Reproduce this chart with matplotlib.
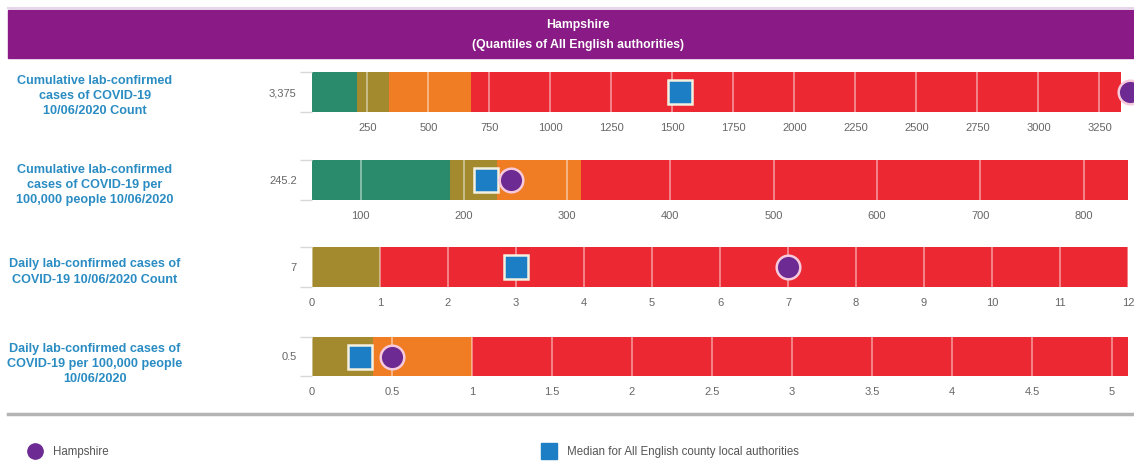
import numpy as np
import matplotlib
matplotlib.use("Agg")
import matplotlib.pyplot as plt
from matplotlib.patches import Rectangle
from matplotlib.lines import Line2D

plt.rcParams['font.family'] = ['Liberation Sans', 'DejaVu Sans']

# chart data
area = 'Hampshire'
subtitle = '(Quantiles of All English authorities)'
row_labels = ['Cumulative lab-confirmed\ncases of COVID-19\n10/06/2020 Count',
              'Cumulative lab-confirmed\ncases of COVID-19 per\n100,000 people 10/06/2020',
              'Daily lab-confirmed cases of\nCOVID-19 10/06/2020 Count',
              'Daily lab-confirmed cases of\nCOVID-19 per 100,000 people\n10/06/2020']
value_labels = ['3,375', '245.2', '7', '0.5']
area_values = [3375, 245.2, 7, 0.5]
median_values = [1530, 221, 3, 0.30]
# quantile band edges (start, end) and band colours per row
band_edges = [[23, 208, 340, 675, 3340],
              [53, 187, 232, 313.5, 843],
              [0, 1, 12],
              [0, 0.38, 1.0, 5.1]]
band_colors = [['green', 'olive', 'orange', 'red'],
               ['green', 'olive', 'orange', 'red'],
               ['olive', 'red'],
               ['olive', 'orange', 'red']]
x_limits = [(23, 3367), (53, 843), (0, 12), (0, 5.1)]
x_ticks = [np.arange(250, 3251, 250),
           np.arange(100, 801, 100),
           np.arange(0, 13, 1),
           np.arange(0, 5.01, 0.5)]
tick_text = [[str(t) for t in x_ticks[0]],
             [str(t) for t in x_ticks[1]],
             [str(t) for t in x_ticks[2]],
             ['%g' % t for t in x_ticks[3]]]

palette = {'green': '#2a8a6c', 'olive': '#a38a2f', 'orange': '#f07d24',
           'red': '#ec2933'}
purple = '#6c2a92'
blue = '#1c7fc6'
header_col = '#8a1a86'
label_col = '#2a8cc2'
grey_txt = '#666666'

W, H = 1134, 468
fig = plt.figure(figsize=(W / 100, H / 100), dpi=100)

def px_rect(x0, y0, x1, y1):
    # pixel box (top-left origin) -> figure fraction
    return [x0 / W, 1 - y1 / H, (x1 - x0) / W, (y1 - y0) / H]

# header band
fig.add_artist(Line2D([8 / W, 1], [1 - 8 / H] * 2, color='#e6d6ea',
                      linewidth=1.5, transform=fig.transFigure))
fig.patches.append(Rectangle((8 / W, 1 - 58 / H), 1 - 8 / W, 48 / H,
                             transform=fig.transFigure, color=header_col,
                             zorder=0))
fig.text(578 / W, 1 - 25 / H, area, color='white', fontsize=8.8,
         fontweight='bold', ha='center', va='center')
fig.text(578 / W, 1 - 45 / H, subtitle, color='white', fontsize=8.8,
         fontweight='bold', ha='center', va='center')

bar_rows = [(72, 112), (160, 200), (247, 287), (337, 376)]
label_y = [96, 185, 272, 364]

for i, (top, bot) in enumerate(bar_rows):
    ax = fig.add_axes(px_rect(312, top, 1128, bot))
    edges = band_edges[i]
    for j, c in enumerate(band_colors[i]):
        ax.barh(0.5, edges[j + 1] - edges[j], left=edges[j], height=1.0,
                color=palette[c], zorder=1)
    ax.set_xlim(*x_limits[i])
    ax.set_ylim(0, 1)
    ax.set_xticks(x_ticks[i])
    ax.set_xticklabels(tick_text[i])
    ax.set_axisbelow(False)
    ax.grid(axis='x', color='white', alpha=0.5, linewidth=1.2)
    ax.tick_params(axis='x', length=0, pad=8, labelsize=8,
                   labelcolor=grey_txt)
    ax.set_yticks([0.5])
    ax.set_yticklabels([value_labels[i]])
    ax.set_yticks([0.0, 1.0], minor=True)
    ax.tick_params(axis='y', which='major', length=0, pad=11, labelsize=8,
                   labelcolor=grey_txt)
    ax.tick_params(axis='y', which='minor', length=9, width=1,
                   color='#d8d8d8')
    for s in ax.spines.values():
        s.set_visible(False)

    ax.plot(median_values[i], 0.5, marker='s', ms=17, mfc=blue,
            mec='#f4f0e0', mew=1.8, zorder=4, clip_on=False)
    ax.plot(area_values[i], 0.5, marker='o', ms=17, mfc=purple,
            mec='#f6c9dc', mew=1.8, zorder=5, clip_on=False)

    fig.text(95 / W, 1 - label_y[i] / H, row_labels[i], color=label_col,
             fontsize=9.1, fontweight='bold', ha='center', va='center',
             linespacing=1.38)

# separator line
fig.add_artist(Line2D([8 / W, 1], [1 - 414 / H] * 2, color='#b4b4b4',
                      linewidth=2.5, transform=fig.transFigure))

# legend
h1 = Line2D([], [], ls='none', marker='o', ms=11, mfc=purple, mec=purple,
            label=area)
h2 = Line2D([], [], ls='none', marker='s', ms=11, mfc=blue, mec=blue,
            label='Median for All English county local authorities')
leg1 = fig.legend(handles=[h1], loc='center left', frameon=False,
                  bbox_to_anchor=(18 / W, 1 - 452 / H), fontsize=8.3,
                  handletextpad=0.9, handlelength=1.2)
leg2 = fig.legend(handles=[h2], loc='center left', frameon=False,
                  bbox_to_anchor=(532 / W, 1 - 452 / H), fontsize=8.3,
                  handletextpad=0.9, handlelength=1.2)
for leg in (leg1, leg2):
    for t in leg.get_texts():
        t.set_color('#555555')

fig.savefig('out.png', dpi=100)
